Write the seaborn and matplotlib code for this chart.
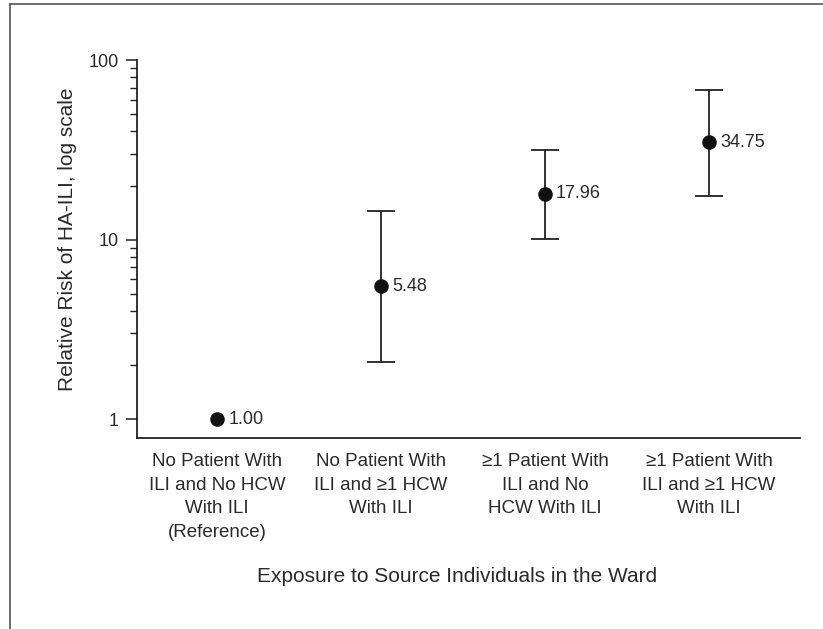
import matplotlib
matplotlib.use("Agg")
import matplotlib.pyplot as plt
from matplotlib.lines import Line2D
from matplotlib.ticker import NullFormatter, FixedLocator, FixedFormatter
import seaborn as sns
import pandas as pd

# Exposure groups and relative risk estimates with 95% CI
categories = [
    "No Patient With\nILI and No HCW\nWith ILI\n(Reference)",
    "No Patient With\nILI and \u22651 HCW\nWith ILI",
    "\u22651 Patient With\nILI and No\nHCW With ILI",
    "\u22651 Patient With\nILI and \u22651 HCW\nWith ILI",
]
relative_risk = [1.00, 5.48, 17.96, 34.75]
ci_lower = [1.00, 2.08, 10.1, 17.5]
ci_upper = [1.00, 14.4, 31.5, 68.1]
value_labels = ["1.00", "5.48", "17.96", "34.75"]
y_ticks = [1, 10, 100]
y_tick_labels = ["1", "10", "100"]
y_minor_ticks = [2, 3, 4, 5, 6, 7, 8, 9, 20, 30, 40, 50, 60, 70, 80, 90]

sns.set_theme(style="ticks")
plt.rcParams["font.family"] = ["Liberation Sans", "DejaVu Sans"]

df = pd.DataFrame({
    "pos": range(len(categories)),
    "rr": relative_risk,
    "lo": ci_lower,
    "hi": ci_upper,
})

fig = plt.figure(figsize=(8.23, 6.29), dpi=100)
ax = fig.add_axes([0.1665, 0.3037, 0.972 - 0.1665, 0.9046 - 0.3037])

# confidence intervals (skip the reference group, which has none)
has_ci = df["hi"] > df["lo"]
ax.errorbar(
    df.loc[has_ci, "pos"], df.loc[has_ci, "rr"],
    yerr=[df.loc[has_ci, "rr"] - df.loc[has_ci, "lo"], df.loc[has_ci, "hi"] - df.loc[has_ci, "rr"]],
    fmt="none", ecolor="#222222", elinewidth=1.3, capsize=10, capthick=1.3, zorder=2,
)
sns.scatterplot(data=df, x="pos", y="rr", ax=ax, color="#111111", s=110,
                edgecolor="#111111", linewidth=0, zorder=3, legend=False)

for x, y, lab in zip(df["pos"], df["rr"], value_labels):
    ax.annotate(lab, (x, y), xytext=(8, 0), textcoords="offset points",
                ha="left", va="center", fontsize=13, color="#2a2a2a")

ax.set_yscale("log")
ax.set_ylim(0.785, 100)
ax.set_xlim(-0.488, 3.555)

ax.yaxis.set_major_locator(FixedLocator(y_ticks))
ax.yaxis.set_major_formatter(FixedFormatter(y_tick_labels))
ax.yaxis.set_minor_locator(FixedLocator(y_minor_ticks))
ax.yaxis.set_minor_formatter(NullFormatter())
ax.tick_params(axis="y", which="major", length=8, width=1.1, labelsize=13,
               colors="#222222", labelcolor="#2a2a2a", pad=5)
ax.tick_params(axis="y", which="minor", length=5, width=1.0, colors="#222222")

ax.set_xticks(df["pos"])
ax.set_xticklabels(categories, fontsize=13.5, linespacing=1.5, color="#2a2a2a",
                   va="top", ha="center")
ax.tick_params(axis="x", length=0, pad=11)

ax.set_xlabel("")
ax.set_ylabel("")
fig.text(457 / 823, 1 - 576 / 629, "Exposure to Source Individuals in the Ward",
         ha="center", va="center", fontsize=15, color="#2a2a2a")
fig.text(68 / 823, 1 - 239 / 629, "Relative Risk of HA-ILI, log scale",
         ha="center", va="center", rotation=90, fontsize=15, color="#2a2a2a")

for side in ("top", "right"):
    ax.spines[side].set_visible(False)
for side in ("left", "bottom"):
    ax.spines[side].set_color("#222222")
    ax.spines[side].set_linewidth(1.3)

# frame lines along the left and top of the figure
fig.add_artist(Line2D([10 / 823, 10 / 823], [0, 1 - 4 / 629], transform=fig.transFigure,
                      color="#555555", linewidth=1.2))
fig.add_artist(Line2D([10 / 823, 1], [1 - 4 / 629, 1 - 4 / 629], transform=fig.transFigure,
                      color="#555555", linewidth=1.2))

fig.savefig("out.png", dpi=100)
